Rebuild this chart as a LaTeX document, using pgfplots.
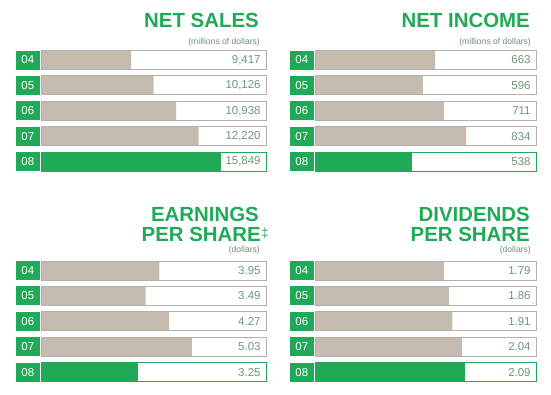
\documentclass[border=0pt]{standalone}
\usepackage{pgfplots}
\pgfplotsset{compat=1.18}
\usepackage{pgfplotstable}
\usepackage{fontspec}
\setmainfont{Liberation Sans}
\definecolor{cgreen}{RGB}{32,170,88}
\definecolor{ctan}{RGB}{198,187,175}
\definecolor{boxgray}{RGB}{182,176,170}
\definecolor{valtext}{RGB}{110,150,122}
\definecolor{subtext}{RGB}{110,140,120}

% Net sales: bars drawn at stepped lengths (percent of box), labels = values
\pgfplotstableread{
y len full val
0 40 100 9417
1 50 100 10126
2 60 100 10938
3 70 100 12220
}\salesA
\pgfplotstableread{
y len full val
4 80 100 15849
}\salesB
\pgfplotstableread{
y len full val
0 663 1220 663
1 596 1220 596
2 711 1220 711
3 834 1220 834
}\incA
\pgfplotstableread{
y len full val
4 538 1220 538
}\incB
\pgfplotstableread{
y len full val
0 3.95 7.5 3.95
1 3.49 7.5 3.49
2 4.27 7.5 4.27
3 5.03 7.5 5.03
}\epsA
\pgfplotstableread{
y len full val
4 3.25 7.5 3.25
}\epsB
\pgfplotstableread{
y len full val
0 1.79 3.07 1.79
1 1.86 3.07 1.86
2 1.91 3.07 1.91
3 2.04 3.07 2.04
}\divA
\pgfplotstableread{
y len full val
4 2.09 3.07 2.09
}\divB

\pgfplotsset{
  panel/.style={
    scale only axis, height=127bp, xmin=0, ymin=-0.5, ymax=4.5, y dir=reverse,
    axis line style={draw=none}, major tick length=0pt,
    xtick=\empty, ytick={0,1,2,3,4}, yticklabels={04,05,06,07,08},
    yticklabel style={font=\fontsize{11.5}{12}\selectfont, text=white, fill=cgreen,
      minimum width=24bp, minimum height=19bp, inner sep=0pt, anchor=east, xshift=-1bp},
    xbar, bar shift=0pt, bar width=19bp, clip=false, enlargelimits=false,
    anchor=south west,
  },
  boxlab/.style={
    point meta=explicit, nodes near coords={#1},
    every node near coord/.append style={anchor=east, xshift=-5bp, inner sep=0pt,
      font=\fontsize{11.5}{12}\selectfont, text=valtext},
  },
}

\begin{document}
\begin{tikzpicture}
\path[use as bounding box] (0,0) rectangle (551bp,395bp);

% ---------- NET SALES ----------
\begin{axis}[panel, at={(41bp,220.7bp)}, width=225bp, xmax=100]
\addplot[fill=ctan, draw=none] table[x=len,y=y] {\salesA};
\addplot[fill=cgreen, draw=none] table[x=len,y=y] {\salesB};
\addplot[draw=boxgray, fill=none, line width=0.9bp,
  boxlab={\pgfmathprintnumber[fixed,precision=0,1000 sep={,},assume math mode=true]{\pgfplotspointmeta}}]
  table[x=full,y=y,meta=val] {\salesA};
\addplot[draw=cgreen, fill=none, line width=0.9bp,
  boxlab={\pgfmathprintnumber[fixed,precision=0,1000 sep={,},assume math mode=true]{\pgfplotspointmeta}}]
  table[x=full,y=y,meta=val] {\salesB};
\end{axis}

% ---------- NET INCOME ----------
\begin{axis}[panel, at={(315bp,220.7bp)}, width=221bp, xmax=1220]
\addplot[fill=ctan, draw=none] table[x=len,y=y] {\incA};
\addplot[fill=cgreen, draw=none] table[x=len,y=y] {\incB};
\addplot[draw=boxgray, fill=none, line width=0.9bp,
  boxlab={\pgfmathprintnumber[fixed,precision=0,assume math mode=true]{\pgfplotspointmeta}}]
  table[x=full,y=y,meta=val] {\incA};
\addplot[draw=cgreen, fill=none, line width=0.9bp,
  boxlab={\pgfmathprintnumber[fixed,precision=0,assume math mode=true]{\pgfplotspointmeta}}]
  table[x=full,y=y,meta=val] {\incB};
\end{axis}

% ---------- EPS ----------
\begin{axis}[panel, at={(41bp,10.2bp)}, width=225bp, xmax=7.5]
\addplot[fill=ctan, draw=none] table[x=len,y=y] {\epsA};
\addplot[fill=cgreen, draw=none] table[x=len,y=y] {\epsB};
\addplot[draw=boxgray, fill=none, line width=0.9bp,
  boxlab={\pgfmathprintnumber[fixed,zerofill,precision=2,assume math mode=true]{\pgfplotspointmeta}}]
  table[x=full,y=y,meta=val] {\epsA};
\addplot[draw=cgreen, fill=none, line width=0.9bp,
  boxlab={\pgfmathprintnumber[fixed,zerofill,precision=2,assume math mode=true]{\pgfplotspointmeta}}]
  table[x=full,y=y,meta=val] {\epsB};
\end{axis}

% ---------- DIVIDENDS ----------
\begin{axis}[panel, at={(315bp,10.2bp)}, width=221bp, xmax=3.07]
\addplot[fill=ctan, draw=none] table[x=len,y=y] {\divA};
\addplot[fill=cgreen, draw=none] table[x=len,y=y] {\divB};
\addplot[draw=boxgray, fill=none, line width=0.9bp,
  boxlab={\pgfmathprintnumber[fixed,zerofill,precision=2,assume math mode=true]{\pgfplotspointmeta}}]
  table[x=full,y=y,meta=val] {\divA};
\addplot[draw=cgreen, fill=none, line width=0.9bp,
  boxlab={\pgfmathprintnumber[fixed,zerofill,precision=2,assume math mode=true]{\pgfplotspointmeta}}]
  table[x=full,y=y,meta=val] {\divB};
\end{axis}

% ---------- titles ----------
\tikzset{ttl/.style={anchor=base east, inner sep=0pt, text=cgreen,
  font=\fontsize{20.5}{22}\selectfont\bfseries},
  sub/.style={anchor=base east, inner sep=0pt, text=subtext,
  font=\fontsize{8.6}{9}\selectfont}}
\node[ttl] at (259bp,367bp) {NET SALES};
\node[sub] at (260bp,350bp) {(millions of dollars)};
\node[ttl] at (530bp,367bp) {NET INCOME};
\node[sub] at (531bp,350bp) {(millions of dollars)};
\node[ttl] at (259bp,173bp) {EARNINGS};
\node[ttl] at (261bp,153bp) {PER SHARE};
\node[anchor=base west, inner sep=0pt, text=cgreen, font=\fontsize{13}{14}\selectfont] at (261.2bp,157.5bp) {‡};
\node[sub] at (260bp,142bp) {(dollars)};
\node[ttl] at (530bp,173bp) {DIVIDENDS};
\node[ttl] at (530bp,153bp) {PER SHARE};
\node[sub] at (531bp,142bp) {(dollars)};
\end{tikzpicture}
\end{document}
